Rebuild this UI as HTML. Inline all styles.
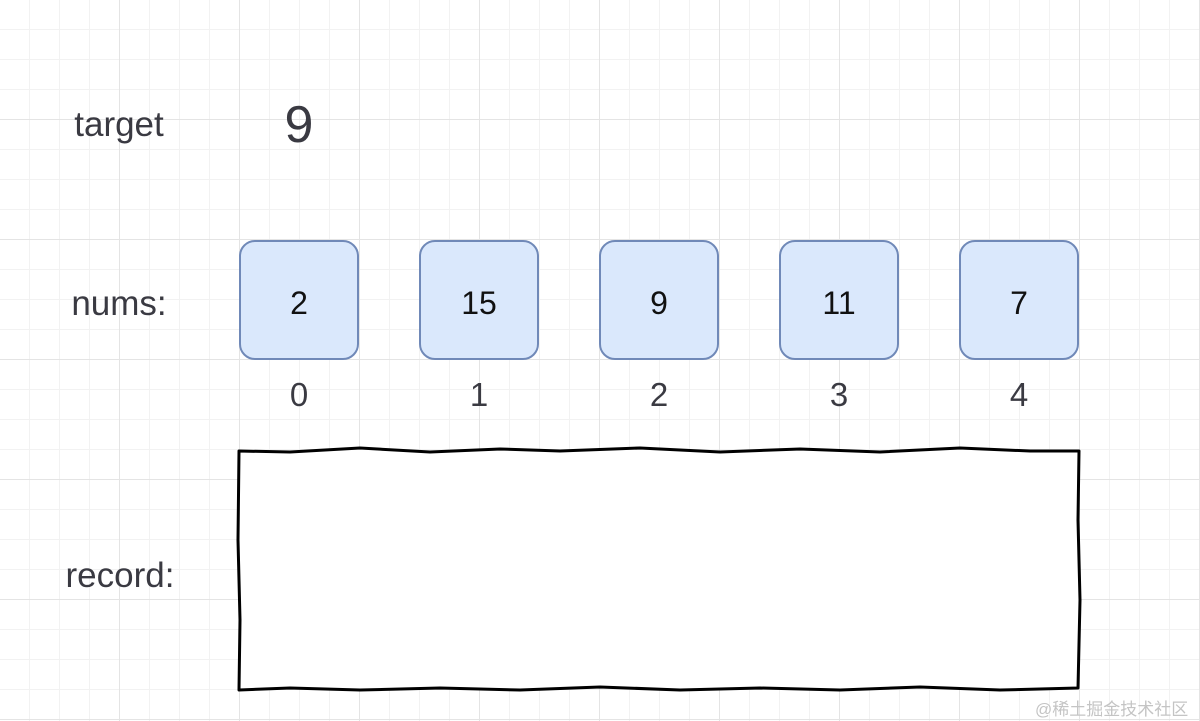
<!DOCTYPE html>
<html><head><meta charset="utf-8"><style>
html,body{margin:0;padding:0;}
body{width:1200px;height:721px;position:relative;overflow:hidden;background:#fff;
background-image:
linear-gradient(#e4e4e4 1px,transparent 1px),
linear-gradient(90deg,#e4e4e4 1px,transparent 1px),
linear-gradient(#f2f2f2 1px,transparent 1px),
linear-gradient(90deg,#f2f2f2 1px,transparent 1px);
background-size:120px 120px,120px 120px,30px 30px,30px 30px;
background-position:-1px -1px,-1px -1px,-1px -1px,-1px -1px;
font-family:"Liberation Sans",Arial,sans-serif;}
.t{position:absolute;transform:translate(-50%,-50%);color:#3a3a42;white-space:nowrap;}
.b{position:absolute;top:240px;width:116px;height:116px;background:#dae8fc;border:2px solid #7089b8;border-radius:16px;display:flex;align-items:center;justify-content:center;font-size:32px;color:#111;padding-top:6px;box-sizing:content-box;height:110px;}
</style></head><body>
<div class="t" style="left:119px;top:125px;font-size:35px">target</div>
<div class="t" style="left:299px;top:125px;font-size:52px">9</div>
<div class="t" style="left:119px;top:304px;font-size:35px">nums:</div>
<div class="t" style="left:120px;top:576px;font-size:35px">record:</div>
<div class="b" style="left:239px">2</div>
<div class="b" style="left:419px">15</div>
<div class="b" style="left:599px">9</div>
<div class="b" style="left:779px">11</div>
<div class="b" style="left:959px">7</div>
<div class="t" style="left:299px;top:395px;font-size:33px">0</div>
<div class="t" style="left:479px;top:395px;font-size:33px">1</div>
<div class="t" style="left:659px;top:395px;font-size:33px">2</div>
<div class="t" style="left:839px;top:395px;font-size:33px">3</div>
<div class="t" style="left:1019px;top:395px;font-size:33px">4</div>
<svg style="position:absolute;left:0;top:0" width="1200" height="721">
<path d="M239 451 L290 452 L360 448 L430 452 L500 449 L560 451 L640 448 L720 452 L800 449 L880 452 L960 448 L1030 451 L1079 451 L1078 520 L1080 600 L1078 688 L1000 690 L920 687 L840 690 L760 688 L680 690 L600 687 L520 690 L440 688 L360 690 L290 688 L239 690 L240 620 L238 540 Z" fill="#fff" stroke="#000" stroke-width="3" stroke-linejoin="round"/>
</svg>
<div style="position:absolute;left:1035px;top:695px;font-size:17px;color:#c4c4c4;font-family:'Liberation Sans','Noto Sans CJK SC',sans-serif">@稀土掘金技术社区</div>
</body></html>
